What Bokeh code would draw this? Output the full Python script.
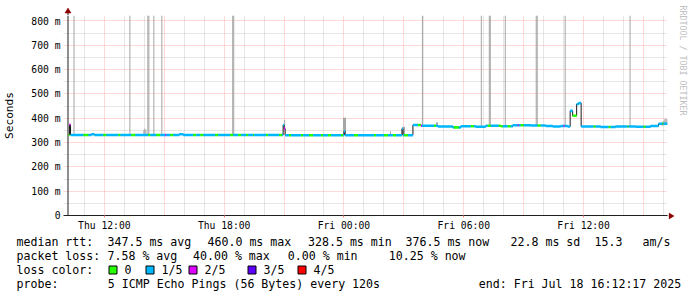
import math
from datetime import datetime, timezone
import numpy as np
from bokeh.plotting import figure
from bokeh.layouts import column, row
from bokeh.models import (Range1d, FixedTicker, DatetimeTickFormatter,
                          ColumnDataSource)
from bokeh.core.properties import value
from bokeh.embed import file_html
from bokeh.resources import INLINE

# ---------------- data ----------------
START = datetime(2025, 7, 17, 10, 12, 17)
END = datetime(2025, 7, 18, 16, 12, 17)
SPAN_H = 30.0

# median rtt (ms); each value holds from its hour (since START) to the next
median_h = [0.00, 0.05, 0.10, 1.15, 1.30, 5.55, 5.75, 10.75, 10.80, 10.85,
            13.80, 13.85, 16.70, 16.75, 17.25, 17.65, 18.50, 19.25, 19.65,
            20.40, 20.90, 21.65, 22.25, 23.15, 23.90, 24.25, 24.65, 25.00,
            25.125, 25.25, 25.45, 25.55, 25.675, 26.65, 27.40, 28.40, 29.15,
            29.55]
median_ms = [331, 373, 331, 334, 331, 334, 331, 372, 357, 330,
             346, 330, 357, 330, 372, 369, 366, 362, 367,
             365, 369, 367, 371, 370, 368, 366, 368, 366,
             430, 410, 458, 462, 366, 364, 366, 365, 368,
             377]

# packet loss: default level plus patches (start h, end h, level index)
base_loss = 1
loss_start_h = [0.00, 0.05, 0.75, 1.75, 2.50, 3.15, 4.00, 4.40, 4.85, 5.10,
                6.25, 6.60, 7.35, 8.10, 8.50, 8.90, 9.25, 9.90, 10.55, 10.80,
                11.05, 11.65, 12.05, 12.65, 13.00, 13.65, 14.30, 15.30, 15.80,
                16.25, 16.80, 17.50, 17.65, 18.30, 19.30, 20.15, 21.00, 21.55,
                22.00, 22.50, 22.65, 23.50, 24.80, 25.25, 26.30, 27.05, 28.00,
                28.80, 29.75]
loss_end_h = [0.05, 0.10, 1.00, 1.90, 2.60, 3.35, 4.10, 4.60, 4.90, 5.25,
              6.40, 6.75, 7.50, 8.25, 8.65, 9.00, 9.30, 10.00, 10.70, 10.85,
              11.15, 11.75, 12.25, 12.75, 13.15, 13.75, 14.50, 15.40, 16.00,
              16.40, 17.00, 17.65, 17.70, 18.40, 19.55, 20.30, 21.15, 21.75,
              22.15, 22.55, 22.80, 23.65, 24.85, 25.45, 26.40, 27.15, 28.05,
              28.90, 29.80]
loss_level = [0, 2, 0, 0, 0, 0, 0, 0, 2, 0,
              0, 0, 0, 0, 0, 0, 0, 0, 0, 2,
              0, 0, 0, 0, 0, 0, 0, 0, 0,
              0, 0, 0, 2, 0, 0, 0, 0, 0,
              0, 2, 0, 0, 2, 0, 0, 0, 0,
              0, 0]

loss_labels = ["0", "1/5", "2/5", "3/5", "4/5"]
loss_colors = ["#26ff00", "#00b8ff", "#dd00ff", "#5e00ff", "#ff0000"]

# smoke: outliers running up to the top of the graph
spike_h = [0.25, 3.05, 3.95, 4.00, 4.25, 4.65, 8.20, 8.25, 17.70, 20.65,
           21.05, 21.10, 21.85, 23.40, 23.45, 24.85, 28.10]
spike_top_ms = [822] * len(spike_h)
# smoke: small spreads
smoke_h = [3.75, 3.80, 3.85, 10.80, 13.75, 13.80, 13.85, 16.10, 16.75, 16.80,
           18.40, 18.45, 29.70, 29.75, 29.80, 29.85, 29.90, 29.95]
smoke_lo = [330, 330, 330, 357, 330, 330, 330, 330, 330, 330,
            365, 365, 370, 370, 370, 377, 377, 377]
smoke_hi = [350, 358, 352, 394, 402, 402, 402, 346, 365, 365,
            383, 383, 385, 385, 390, 398, 398, 396]

y_ticks = [0, 100, 200, 300, 400, 500, 600, 700, 800]
y_tick_labels = ["0", "100 m", "200 m", "300 m", "400 m", "500 m", "600 m",
                 "700 m", "800 m"]
x_label_times = [datetime(2025, 7, 17, 12), datetime(2025, 7, 17, 18),
                 datetime(2025, 7, 18, 0), datetime(2025, 7, 18, 6),
                 datetime(2025, 7, 18, 12)]

stats_rtt = ["median rtt:", "347.5 ms avg", "460.0 ms max", "328.5 ms min",
             "376.5 ms now", "22.8 ms sd", "15.3", "am/s"]
stats_loss = ["packet loss:", "7.58 % avg", "40.00 % max", "0.00 % min",
              "10.25 % now"]
probe_text = ["probe:", "5 ICMP Echo Pings (56 Bytes) every 120s",
              "end: Fri Jul 18 16:12:17 2025"]
watermark = "RRDTOOL / TOBI OETIKER"

# ---------------- helpers ----------------
def ms(dtobj):
    return dtobj.replace(tzinfo=timezone.utc).timestamp() * 1000.0

T0 = ms(START)
T1 = ms(END)
HOUR = 3600000.0
STEP = 180000.0          # one pixel column = 3 minutes

def t_of(h):
    return T0 + np.asarray(h, dtype=float) * HOUR

Y_MAX = 822.0
W, H = 697, 297
FL = 62           # frame left (grid starts here)
L = 67            # y axis / first sample
FR = 667          # frame right
FT = 15           # frame top
FB = 215          # frame bottom
CH_W = 668        # chart figure width
CH_H = 218        # chart figure height (starts at y = FT)
SIDE_W = W - CH_W
TXT_Y0 = FT + CH_H

mh = np.array(median_h)
mv = np.array(median_ms, dtype=float)

def median_at(h):
    idx = np.searchsorted(mh, h, side="right") - 1
    return mv[np.clip(idx, 0, len(mv) - 1)]

def loss_at(h):
    for s, e, lv in zip(loss_start_h, loss_end_h, loss_level):
        if s <= h + 1e-9 < e:
            return lv
    return base_loss

MONO = "DejaVu Sans Mono"
AXIS_COL = "#202020"
ARROW_COL = "#8b0000"

def blank(width, height, xr, yr, left=0, right=0):
    f = figure(width=width, height=height, output_backend="svg",
               toolbar_location=None, x_range=xr, y_range=yr, title=None,
               min_border=0, min_border_left=left, min_border_right=right,
               min_border_top=0, min_border_bottom=0)
    f.axis.visible = False
    f.grid.visible = False
    f.outline_line_color = None
    f.background_fill_color = "white"
    f.border_fill_color = "white"
    return f

# ---------------- main chart ----------------
p = figure(width=CH_W, height=CH_H, x_axis_type="datetime",
           output_backend="svg", toolbar_location=None,
           x_range=Range1d(T0 - (L - FL) * STEP, T1),
           y_range=Range1d(0, Y_MAX),
           min_border_left=FL, min_border_right=CH_W - FR,
           min_border_top=0, min_border_bottom=CH_H - (FB - FT))
p.outline_line_color = None
p.background_fill_color = "white"
p.border_fill_color = "white"

hour_ticks, three_h = [], []
for k in range(0, 31):
    t = ms(datetime(2025, 7, 17, 11)) + k * HOUR
    if t > T1:
        break
    hr = (11 + k) % 24
    (three_h if hr % 3 == 0 else hour_ticks).append(t)
p.xgrid.ticker = FixedTicker(ticks=three_h, minor_ticks=hour_ticks)
p.ygrid.ticker = FixedTicker(ticks=y_ticks[1:],
                             minor_ticks=[v + 50 for v in y_ticks[:-1]])
for g in (p.xgrid, p.ygrid):
    g.grid_line_color = "#ff8080"
    g.grid_line_alpha = 0.6
    g.grid_line_dash = "1 1"
    g.minor_grid_line_color = "#c0c0c0"
    g.minor_grid_line_alpha = 0.8
    g.minor_grid_line_dash = "1 1"

p.xaxis.ticker = FixedTicker(ticks=[ms(t) for t in x_label_times])
fmt = "%a %H:%M"
p.xaxis.formatter = DatetimeTickFormatter(hours=fmt, hourmin=fmt, days=fmt,
                                          minutes=fmt, months=fmt, years=fmt)
p.yaxis.ticker = FixedTicker(ticks=y_ticks,
                             minor_ticks=[v + 50 for v in y_ticks[:-1]])
p.yaxis.major_label_overrides = {v: s for v, s in zip(y_ticks, y_tick_labels)}
for ax in (p.xaxis, p.yaxis):
    ax.axis_line_color = AXIS_COL
    ax.major_label_text_font = MONO
    ax.major_label_text_font_size = "9.7px"
    ax.major_label_text_color = "#000000"
    ax.major_tick_in = 0
    ax.minor_tick_in = 0
    ax.minor_tick_out = 0
    ax.major_tick_line_color = "#ff8080"
p.yaxis.axis_line_color = None
p.yaxis.major_tick_out = 0
p.yaxis.major_label_standoff = 3
p.xaxis.major_tick_out = 2
p.xaxis.major_label_standoff = 2
p.yaxis.axis_label = "Seconds"
p.yaxis.axis_label_text_font = MONO
p.yaxis.axis_label_text_font_size = "11.2px"
p.yaxis.axis_label_text_font_style = "normal"
p.yaxis.axis_label_text_color = "#000000"
p.yaxis.axis_label_standoff = 12

# smoke (each sample fills its 3-minute pixel column)
sp_h = np.array(spike_h)
p.vbar(x=t_of(sp_h) + STEP / 2, width=STEP, bottom=median_at(sp_h),
       top=spike_top_ms, fill_color="#a4a4a4", line_color=None)
p.vbar(x=t_of(smoke_h) + STEP / 2, width=STEP, bottom=smoke_lo, top=smoke_hi,
       fill_color="#a4a4a4", line_color=None)

# y axis line at the first sample
p.segment(x0=[T0 - STEP / 2], y0=[0], x1=[T0 - STEP / 2], y1=[Y_MAX],
          line_color=AXIS_COL, line_width=1)

# median line (thin, dark)
p.step(x=np.append(t_of(mh), T1), y=np.append(mv, mv[-1]), mode="after",
       line_color="#1a1a1a", line_width=1)

# loss-coloured median segments
bps = sorted(set(list(median_h) + loss_start_h + loss_end_h + [SPAN_H]))
x0, x1, yv, cols = [], [], [], []
for a, b in zip(bps[:-1], bps[1:]):
    x0.append(float(t_of(a))); x1.append(float(t_of(b)))
    yv.append(float(median_at(a)))
    cols.append(loss_colors[loss_at(a)])
seg = ColumnDataSource(dict(x0=x0, x1=x1, y=yv, c=cols))
p.segment(x0="x0", y0="y", x1="x1", y1="y", color="c", line_width=2.6,
          line_cap="butt", source=seg)

# ---------------- strip above the chart: y-axis arrow ----------------
top = blank(CH_W, FT, Range1d(FL, FR), Range1d(FT, 0),
            left=FL, right=CH_W - FR)
AX = L - 0.5
top.segment(x0=[AX], y0=[10], x1=[AX], y1=[FT],
            line_color=AXIS_COL, line_width=1)
top.patch(x=[AX - 3, AX + 3, AX], y=[12.5, 12.5, 7.5],
          fill_color=ARROW_COL, line_color=ARROW_COL, line_width=0.5)

# ---------------- strip right of the chart: x-axis arrow, watermark -----
side = blank(SIDE_W, FT + CH_H, Range1d(CH_W, W), Range1d(FT + CH_H, 0))
side.segment(x0=[CH_W], y0=[FB + 0.5], x1=[CH_W + 2], y1=[FB + 0.5],
             line_color=AXIS_COL, line_width=1)
side.patch(x=[CH_W + 0.5, CH_W + 0.5, CH_W + 5.5],
           y=[FB - 2.5, FB + 3.5, FB + 0.5],
           fill_color=ARROW_COL, line_color=ARROW_COL, line_width=0.5)
side.text(x=[682], y=[5], text=[watermark], text_font=value(MONO),
          text_font_size="8.3px", text_color="#c0c0c0", text_align="left",
          text_baseline="middle", angle=-math.pi / 2, angle_units="rad")

# ---------------- legend / statistics below ----------------
txt = blank(W, H - TXT_Y0, Range1d(0, W), Range1d(H, TXT_Y0))
tx, ty, tt = [], [], []
for s, x in zip(stats_rtt, [16, 107, 207, 307.5, 405, 510, 594, 642]):
    tx.append(x); ty.append(241); tt.append(s)
for s, x in zip(stats_loss, [16, 107, 192.5, 287.3, 388.3]):
    tx.append(x); ty.append(255.5); tt.append(s)
tx.append(16); ty.append(269); tt.append("loss color:")
box_x = [108, 145, 188, 247, 297]
for lbl, bx in zip(loss_labels, box_x):
    tx.append(bx + 16); ty.append(269); tt.append(lbl)
for s, x in zip(probe_text, [16, 107.3, 478.3]):
    tx.append(x); ty.append(283); tt.append(s)
txt.text(x=tx, y=ty, text=tt, text_font=value(MONO), text_font_size="11.6px",
         text_color="#000000", text_align="left", text_baseline="middle")
txt.quad(left=[b + 0.5 for b in box_x], right=[b + 8.5 for b in box_x],
         top=[265.5] * 5, bottom=[273.5] * 5, fill_color=loss_colors,
         line_color="#000000", line_width=1)

layout = column(row(column(top, p), side), txt)
open("out.html", "w").write(file_html(layout, INLINE))
